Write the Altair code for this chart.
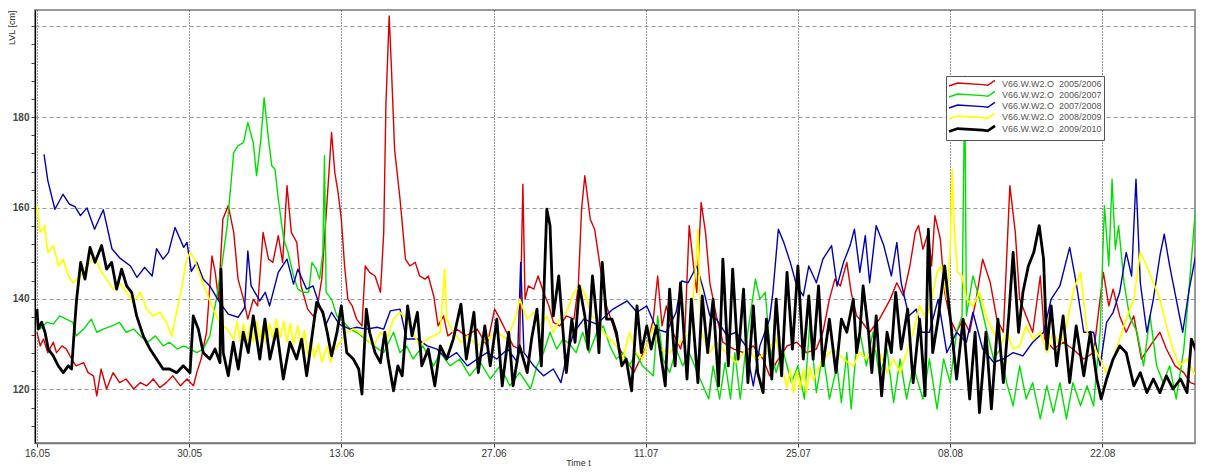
import altair as alt
import pandas as pd

SERIES = [
    "V66.W.W2.O\u00a0\u00a02005/2006",
    "V66.W.W2.O\u00a0\u00a02006/2007",
    "V66.W.W2.O\u00a0\u00a02007/2008",
    "V66.W.W2.O\u00a0\u00a02008/2009",
    "V66.W.W2.O\u00a0\u00a02009/2010",
]
COLORS = ["#d80000", "#00e000", "#0000b0", "#ffff00", "#000000"]
WIDTHS = [1.4, 1.4, 1.4, 1.7, 2.8]

TICK_DAYS = [0, 14, 28, 42, 56, 70, 84, 98]
TICK_LABELS = ["16.05", "30.05", "13.06", "27.06", "11.07", "25.07", "08.08", "22.08"]
Y_TICKS = [112, 116, 120, 124, 128, 132, 136, 140, 144, 148, 152, 156, 160, 164,
           168, 172, 176, 180, 184, 188, 192, 196, 200]

# days after 16.05 00:00
red_day = [0, 0.3, 0.6, 1.0, 1.5, 1.8, 2.3, 2.7, 3.2, 3.6, 4.3, 4.7, 5.2, 5.5, 5.9, 6.4, 7.0, 7.6,
           8.2, 8.9, 9.5, 10.1, 10.7, 11.3, 11.9, 12.5, 13.2, 13.8, 14.4, 14.7, 15.1, 15.6, 16.1,
           16.4, 16.7, 17.1, 17.6, 18.1, 18.5, 19.0, 19.4, 19.9, 20.3, 20.8, 21.3, 21.7, 22.2,
           22.6, 23.0, 23.4, 23.9, 24.3, 24.9, 25.4, 25.7, 26.2, 26.7, 27.1, 27.4, 27.7, 28.0,
           28.3, 28.6, 29.0, 29.4, 29.9, 30.2, 30.6, 31.1, 31.6, 31.9, 32.1, 32.4, 32.6, 32.9,
           33.4, 33.9, 34.3, 34.8, 35.2, 35.7, 36.0, 36.5, 36.9, 37.4, 37.8, 38.6, 39.5, 40.5,
           41.4, 42.1, 42.6, 43.2, 43.8, 44.4, 44.7, 44.9, 45.2, 45.7, 46.1, 46.6, 47.1, 47.5,
           48.1, 48.7, 49.4, 49.8, 50.1, 50.4, 50.9, 51.3, 51.8, 52.4, 53.0, 53.6, 54.2, 54.9,
           55.5, 56.1, 56.7, 57.1, 57.5, 57.9, 58.5, 59.2, 59.6, 60.0, 60.4, 60.7, 61.1, 61.5,
           61.9, 62.5, 63.1, 64.1, 65.0, 65.9, 66.8, 67.4, 68.0, 69.0, 69.9, 70.8, 71.7, 72.3,
           72.9, 73.4, 73.9, 74.5, 74.9, 75.4, 75.7, 76.6, 77.5, 78.5, 79.1, 79.7, 80.3, 80.8,
           81.1, 81.5, 82.0, 82.3, 82.6, 83.1, 83.5, 84.0, 84.6, 85.2, 85.8, 86.4, 87.0, 87.7,
           88.3, 88.9, 89.5, 90.0, 90.4, 91.0, 91.6, 92.3, 92.7, 93.5, 94.4, 95.3, 96.3, 97.2,
           98.1, 98.6, 99.0, 99.6, 100.2, 100.9, 101.6, 102.4, 103.3, 103.9, 104.7, 105.5,
           106.1, 107.0]
red_lvl = [132.6, 129.6, 131.1, 128.1, 130.4, 128.1, 129.6, 128.9, 126.7, 125.2, 125.9, 123.7,
           123.0, 118.6, 124.5, 120.1, 123.7, 121.5, 122.3, 120.1, 121.5, 120.8, 122.3, 120.4,
           121.5, 123.0, 120.8, 122.3, 120.8, 123.7, 126.7, 132.6, 149.4, 145.8, 139.9, 157.5,
           160.5, 154.6, 144.3, 139.9, 135.5, 139.9, 138.4, 154.6, 148.7, 148.0, 153.9, 148.0,
           164.9, 154.6, 152.4, 142.8, 137.7, 136.2, 137.0, 144.3, 161.9, 176.6, 167.8, 163.4,
           157.5, 147.2, 139.9, 138.4, 135.5, 134.0, 147.2, 145.8, 145.0, 141.4, 154.6, 182.5,
           202.3, 191.3, 172.9, 161.9, 148.7, 147.2, 148.0, 145.0, 144.3, 145.0, 140.6, 134.0,
           136.2, 131.8, 133.3, 131.8, 133.3, 129.6, 137.7, 135.5, 132.6, 129.6, 128.9, 165.2,
           139.9, 142.8, 142.1, 145.0, 141.4, 138.4, 134.8, 134.0, 136.2, 135.5, 142.8, 159.7,
           167.1, 157.5, 155.3, 147.2, 138.4, 134.0, 128.9, 126.7, 123.7, 126.7, 129.6, 135.5,
           145.0, 134.0, 138.4, 132.6, 128.9, 132.6, 156.1, 147.2, 141.4, 161.2, 154.6, 143.5,
           136.2, 130.4, 128.9, 128.1, 129.6, 126.7, 123.0, 125.9, 129.6, 130.4, 128.1, 128.9,
           132.6, 139.9, 144.3, 142.8, 148.0, 141.4, 136.2, 135.5, 132.6, 135.5, 139.9, 143.5,
           140.6, 147.2, 154.6, 156.1, 150.9, 154.6, 147.2, 158.3, 153.2, 141.4, 135.5, 132.6,
           135.5, 132.6, 139.9, 148.7, 143.5, 135.5, 132.6, 164.9, 154.6, 139.9, 136.2, 132.6,
           145.0, 131.1, 128.9, 130.4, 128.9, 126.7, 128.1, 145.8, 138.4, 142.1, 136.2, 132.6,
           136.2, 126.7, 129.6, 132.6, 128.9, 125.2, 123.7, 121.5, 120.8]

green_day = [0, 0.3, 0.9, 1.5, 2.1, 2.7, 3.3, 3.6, 4.3, 5.0, 5.5, 6.1, 6.9, 7.6, 8.2, 8.9, 9.5,
             10.2, 10.9, 11.6, 12.2, 12.9, 13.5, 14.1, 14.7, 15.3, 15.9, 16.5, 17.0, 17.5, 18.1,
             18.5, 19.0, 19.4, 19.9, 20.2, 20.6, 20.9, 21.3, 21.6, 21.9, 22.2, 22.7, 23.1, 23.6,
             24.0, 24.5, 25.0, 25.3, 25.7, 26.0, 26.3, 26.45, 26.6, 27.1, 27.6, 28.2, 28.8, 29.4,
             30.2, 31.0, 31.9, 32.8, 33.4, 34.0, 34.6, 35.5, 36.5, 37.1, 38.0, 38.9, 39.8, 40.8,
             41.7, 42.6, 43.5, 44.4, 45.4, 46.0, 46.6, 47.2, 47.8, 48.4, 49.0, 49.6, 50.2, 50.8,
             51.5, 52.1, 52.7, 53.3, 53.9, 54.5, 55.1, 55.7, 56.7, 57.1, 57.6, 58.2, 58.8, 59.4,
             60.0, 61.0, 61.8, 62.2, 62.8, 63.3, 63.8, 64.2, 64.7, 65.3, 66.1, 66.5, 67.0, 67.4,
             68.0, 68.6, 69.4, 70.0, 70.6, 71.1, 71.7, 72.3, 72.9, 73.6, 74.0, 74.5, 74.9, 75.4,
             75.7, 76.3, 76.9, 77.5, 78.2, 78.8, 79.4, 80.0, 80.6, 81.5, 82.1, 82.8, 83.4, 84.0,
             84.6, 85.1, 85.35, 85.5, 86.1, 86.7, 87.4, 88.0, 88.6, 89.2, 89.8, 90.4, 91.0, 91.6,
             92.3, 92.9, 93.5, 94.1, 94.7, 95.3, 96.0, 96.6, 97.2, 97.8, 98.2, 98.6, 98.9, 99.2,
             99.5, 100.0, 100.5, 101.2, 101.8, 102.4, 103.0, 103.6, 104.2, 104.8, 105.5, 105.9,
             106.4, 106.7, 107.0]
green_lvl = [135.5, 133.3, 134.8, 134.4, 136.2, 135.5, 134.8, 131.8, 133.3, 135.5, 132.6, 133.3,
             134.0, 134.8, 132.6, 133.3, 131.8, 130.4, 131.8, 129.6, 130.4, 128.9, 129.6, 128.9,
             128.1, 128.9, 131.8, 139.9, 147.2, 156.1, 172.2, 173.7, 174.4, 178.8, 174.4, 167.1,
             175.1, 184.3, 175.1, 169.3, 168.5, 161.9, 153.1, 150.2, 145.0, 142.1, 141.4, 141.4,
             148.0, 146.5, 144.3, 150.2, 171.5, 141.4, 139.9, 136.2, 134.8, 133.3, 132.6, 131.1,
             129.6, 128.1, 132.6, 128.1, 129.6, 126.7, 129.6, 125.2, 128.1, 125.2, 126.7, 123.0,
             125.9, 122.3, 125.2, 120.8, 123.7, 120.1, 125.2, 128.1, 132.6, 128.9, 131.1, 130.0,
             128.1, 132.6, 128.1, 132.6, 134.0, 129.6, 126.7, 128.1, 125.2, 128.1, 125.2, 123.0,
             136.2, 126.7, 123.7, 128.9, 125.2, 128.1, 122.3, 117.9, 125.2, 117.9, 125.9, 117.9,
             128.1, 117.9, 131.1, 144.3, 139.9, 141.4, 129.6, 123.7, 128.9, 121.5, 125.2, 117.9,
             134.8, 119.3, 128.1, 117.9, 125.2, 117.1, 128.1, 115.7, 129.6, 132.6, 125.2, 132.6,
             123.0, 128.9, 117.1, 126.7, 117.9, 125.2, 117.9, 126.7, 115.7, 126.7, 121.5, 132.6,
             136.2, 189.0, 136.2, 145.0, 139.9, 132.6, 126.7, 128.9, 121.5, 116.4, 125.2, 117.9,
             121.5, 113.5, 120.8, 114.9, 121.5, 113.5, 121.5, 116.4, 120.8, 116.4, 132.6, 160.5,
             147.2, 166.3, 150.9, 156.1, 143.5, 136.2, 132.6, 125.2, 136.2, 125.2, 121.5, 125.2,
             117.9, 128.9, 139.9, 154.6, 163.4, 158.3]

blue_day = [0.65, 1.0, 1.65, 2.4, 3.0, 3.5, 4.0, 4.6, 5.3, 6.1, 6.9, 7.6, 8.6, 9.2, 9.9, 10.6,
            11.0, 11.6, 12.1, 12.7, 13.5, 13.8, 14.2, 14.7, 15.3, 15.9, 16.8, 17.6, 18.5, 19.1,
            19.4, 19.7, 20.5, 21.0, 21.4, 22.2, 23.0, 23.6, 24.0, 24.8, 25.4, 26.0, 26.6, 27.1,
            27.8, 28.8, 29.4, 30.3, 31.3, 31.9, 32.5, 33.4, 34.0, 35.0, 35.9, 36.8, 37.7, 38.6,
            39.6, 40.5, 41.4, 42.3, 43.3, 44.2, 44.5, 44.8, 45.7, 46.6, 47.5, 48.2, 48.8, 49.4,
            50.3, 51.5, 53.0, 54.3, 55.2, 56.1, 57.0, 57.9, 58.8, 59.3, 59.9, 60.7, 61.3, 61.9,
            62.5, 63.5, 64.3, 65.2, 65.9, 66.5, 67.4, 67.7, 68.2, 68.7, 69.3, 69.9, 70.5, 71.0,
            71.7, 72.3, 73.1, 73.6, 74.2, 74.8, 75.2, 75.7, 76.2, 76.6, 77.2, 77.9, 78.6, 79.1,
            79.5, 80.2, 80.9, 81.4, 82.1, 82.9, 83.7, 84.6, 85.5, 86.1, 87.0, 88.0, 88.9, 89.8,
            90.7, 91.6, 92.6, 93.3, 94.1, 95.0, 95.6, 96.3, 97.2, 97.8, 98.4, 99.0, 99.6, 100.2,
            100.7, 101.1, 101.5, 102.1, 102.7, 103.3, 103.7, 104.2, 104.8, 105.4, 106.0, 106.7,
            107.0]
blue_lvl = [171.8, 166.0, 159.7, 163.0, 160.8, 160.3, 158.3, 160.0, 155.3, 159.6, 151.0, 149.0,
            147.2, 144.7, 146.9, 145.0, 151.0, 148.7, 150.2, 155.7, 151.3, 152.4, 146.0, 148.0,
            144.3, 142.8, 139.2, 136.6, 135.9, 138.0, 150.5, 142.8, 139.5, 141.4, 138.4, 145.8,
            148.7, 143.2, 146.5, 142.1, 142.8, 138.5, 134.4, 137.0, 134.4, 133.3, 133.7, 133.3,
            133.7, 133.3, 137.3, 137.7, 131.1, 131.1, 129.6, 128.9, 126.7, 128.1, 125.2, 126.7,
            128.1, 126.7, 128.9, 126.0, 148.0, 128.1, 125.2, 123.0, 124.5, 121.5, 128.1, 132.6,
            135.5, 134.4, 137.7, 139.5, 137.0, 138.4, 133.3, 132.6, 137.0, 143.9, 143.5, 147.2,
            142.1, 136.2, 135.5, 131.8, 132.6, 129.6, 120.8, 129.6, 135.5, 141.4, 155.3, 152.4,
            148.0, 142.8, 140.6, 147.2, 143.5, 148.7, 151.7, 142.8, 148.0, 151.7, 155.3, 145.8,
            153.9, 143.5, 156.1, 151.7, 145.0, 152.4, 143.5, 136.2, 137.7, 132.6, 132.6, 139.9,
            128.1, 132.6, 130.4, 137.0, 128.9, 126.0, 126.7, 128.1, 127.4, 130.4, 132.6, 139.9,
            142.8, 151.3, 143.5, 132.6, 132.6, 125.2, 134.8, 137.0, 141.4, 150.2, 145.0, 166.3,
            143.5, 132.6, 139.9, 149.4, 154.2, 147.2, 139.9, 132.6, 142.1, 150.9, 166.3]

yellow_day = [0, 0.3, 0.7, 1.0, 1.5, 2.0, 2.4, 2.9, 3.3, 4.0, 4.6, 5.3, 5.8, 6.4, 7.0, 7.6, 8.2,
              8.9, 9.5, 10.1, 10.7, 11.3, 11.9, 12.4, 12.9, 13.3, 13.7, 14.1, 14.5, 15.0, 15.6,
              16.2, 16.8, 17.5, 18.1, 18.4, 18.7, 19.0, 19.3, 19.6, 19.9, 20.2, 20.5, 20.8, 21.1,
              21.4, 21.7, 22.0, 22.4, 22.7, 23.0, 23.3, 23.6, 24.0, 24.3, 24.6, 24.9, 25.2, 25.5,
              25.9, 26.2, 26.7, 27.0, 27.3, 27.9, 28.5, 29.1, 29.7, 30.3, 31.0, 31.6, 32.2, 32.8,
              33.4, 34.0, 34.6, 35.2, 35.9, 36.5, 37.1, 37.5, 37.7, 38.3, 39.0, 39.6, 40.5, 41.4,
              42.3, 43.2, 44.1, 44.4, 45.1, 45.7, 46.3, 46.9, 47.5, 48.1, 48.7, 49.4, 50.0, 50.6,
              51.0, 51.5, 52.1, 52.7, 53.3, 53.9, 54.5, 55.1, 55.7, 56.7, 57.3, 58.2, 59.1, 60.1,
              60.6, 60.8, 61.1, 61.9, 62.5, 63.4, 64.3, 65.3, 66.2, 67.1, 68.0, 68.6, 69.0, 69.3,
              69.6, 69.9, 70.2, 70.5, 70.8, 71.1, 71.4, 72.3, 73.3, 74.2, 75.1, 75.7, 76.3, 76.9,
              77.5, 78.2, 78.8, 79.4, 80.0, 80.6, 81.2, 81.8, 82.3, 82.8, 83.2, 83.7, 84.0, 84.2,
              84.4, 84.7, 85.1, 85.5, 86.1, 86.7, 87.4, 88.0, 88.6, 89.2, 89.8, 90.4, 91.0, 91.6,
              92.3, 92.9, 93.5, 94.1, 94.7, 95.3, 96.0, 96.6, 97.2, 97.8, 98.4, 99.0, 99.6, 100.2,
              100.9, 101.5, 102.1, 102.7, 103.3, 103.9, 104.5, 105.1, 105.8, 106.4, 107.0]
yellow_lvl = [160.5, 154.6, 156.1, 150.2, 151.7, 147.2, 148.7, 145.0, 143.5, 145.0, 147.2, 149.4,
              146.5, 144.3, 142.1, 143.5, 141.4, 139.2, 141.4, 137.7, 136.2, 137.0, 134.8, 131.8,
              137.7, 142.1, 148.0, 150.2, 148.7, 145.0, 141.4, 137.7, 134.8, 133.3, 131.0, 135.0,
              130.5, 134.5, 130.0, 134.0, 130.5, 135.0, 131.0, 134.0, 130.0, 134.5, 131.0, 135.5,
              131.5, 135.0, 130.5, 134.5, 130.0, 134.0, 129.0, 133.0, 127.5, 131.0, 127.0, 130.0,
              126.0, 129.5, 126.0, 128.5, 130.4, 132.6, 133.3, 132.6, 131.1, 129.6, 132.6, 131.1,
              135.5, 137.0, 135.5, 132.6, 129.6, 131.1, 131.8, 132.6, 146.5, 135.5, 132.6, 130.4,
              131.8, 129.6, 131.1, 132.6, 131.1, 136.2, 139.9, 135.5, 137.0, 134.0, 136.2, 132.6,
              135.5, 137.0, 141.4, 142.8, 139.9, 136.2, 135.5, 132.6, 131.1, 129.6, 126.7, 132.6,
              128.1, 126.7, 134.0, 128.9, 128.1, 130.4, 132.6, 147.2, 155.3, 132.6, 128.1, 130.4,
              128.1, 125.9, 128.9, 126.7, 128.1, 131.1, 124.0, 120.5, 124.5, 119.3, 124.0, 120.0,
              124.5, 119.3, 125.0, 122.0, 126.7, 128.9, 126.7, 125.2, 128.1, 126.7, 129.6, 128.1,
              123.7, 126.7, 123.7, 128.1, 132.6, 138.4, 135.5, 139.9, 145.8, 147.2, 139.9, 150.2,
              168.5, 154.6, 145.8, 145.0, 139.9, 138.4, 141.4, 135.5, 132.6, 129.6, 132.6, 128.9,
              129.6, 134.0, 131.1, 132.6, 128.1, 132.6, 129.6, 134.0, 141.4, 145.8, 132.6, 129.6,
              126.7, 123.7, 126.7, 131.1, 135.5, 139.9, 150.2, 147.2, 143.5, 139.9, 134.0, 128.9,
              125.2, 126.7, 123.7, 122.3]

black_day = [0, 0.12, 0.43, 0.74, 1.04, 1.5, 1.96, 2.42, 2.88, 3.19, 3.44, 3.65, 4.02, 4.42, 4.88,
             5.34, 5.95, 6.41, 6.87, 7.33, 7.79, 8.25, 8.71, 9.17, 9.78, 10.4, 11.0, 11.6, 12.2,
             12.85, 13.46, 14.08, 14.38, 14.84, 15.3, 15.9, 16.38, 16.84, 16.93, 17.14, 17.6,
             18.06, 18.52, 18.98, 19.44, 19.9, 20.5, 20.97, 21.43, 22.05, 22.66, 23.27, 23.89,
             24.35, 24.81, 25.27, 25.73, 26.3, 26.7, 27.1, 27.6, 28.0, 28.5, 29.1, 29.6, 29.9,
             30.3, 30.6, 31.1, 31.6, 32.0, 32.3, 32.8, 33.2, 33.6, 34.1, 34.5, 35.0, 35.4, 36.0,
             36.6, 37.1, 37.7, 38.3, 39.0, 39.5, 40.2, 40.6, 41.2, 41.7, 42.3, 42.8, 43.4, 43.8,
             44.4, 45.1, 45.5, 46.0, 46.4, 46.9, 47.2, 47.5, 48.0, 48.4, 48.7, 49.2, 49.5, 49.9,
             50.4, 50.7, 51.1, 51.5, 51.7, 52.0, 52.4, 52.9, 53.3, 53.8, 54.2, 54.7, 55.2, 55.6,
             56.1, 56.5, 57.0, 57.8, 58.2, 58.7, 59.2, 59.8, 60.2, 60.8, 61.2, 61.7, 62.2, 62.7,
             63.1, 63.6, 64.0, 64.5, 65.0, 65.4, 65.9, 66.3, 66.8, 67.1, 67.6, 68.0, 68.5, 69.0,
             69.5, 70.0, 70.5, 71.0, 71.4, 71.9, 72.3, 72.9, 73.5, 74.0, 74.5, 75.1, 75.4, 75.7,
             76.0, 76.5, 76.8, 77.2, 77.7, 78.2, 78.6, 79.0, 79.5, 80.1, 80.6, 81.2, 81.7, 82.0,
             82.4, 82.9, 83.5, 84.0, 84.6, 85.2, 85.8, 86.3, 86.7, 87.3, 87.8, 88.4, 88.9, 89.4,
             89.8, 90.3, 90.7, 91.2, 91.7, 92.2, 92.6, 92.9, 93.3, 93.8, 94.4, 95.0, 95.6, 96.3,
             96.9, 97.5, 97.9, 98.4, 99.0, 99.6, 100.2, 100.9, 101.5, 102.1, 102.7, 103.3, 103.9,
             104.5, 105.2, 105.8, 106.2, 106.7, 107.1]
black_lvl = [137.7, 133.3, 134.8, 132.6, 128.9, 127.4, 125.2, 123.7, 125.2, 124.5, 133.3, 139.9,
             148.0, 144.3, 151.3, 148.0, 151.7, 146.5, 148.0, 142.1, 146.5, 142.8, 141.4, 136.2,
             131.8, 128.9, 126.7, 124.5, 124.5, 123.7, 125.2, 123.7, 136.2, 133.3, 128.1, 126.7,
             128.9, 125.9, 146.5, 128.1, 123.0, 130.4, 124.5, 132.6, 128.1, 136.2, 126.7, 135.5,
             126.7, 133.3, 122.3, 130.4, 126.7, 131.1, 123.0, 131.1, 139.2, 137.0, 132.6, 127.4,
             132.6, 138.4, 128.1, 126.7, 124.5, 119.0, 137.7, 132.6, 128.1, 125.9, 132.6, 126.7,
             119.7, 125.2, 123.0, 138.4, 131.8, 137.0, 125.2, 128.9, 120.8, 129.6, 126.7, 131.1,
             138.8, 126.7, 137.0, 123.7, 134.0, 125.2, 135.5, 120.8, 132.6, 120.8, 129.6, 123.7,
             131.1, 137.7, 125.2, 159.7, 156.1, 136.2, 145.0, 132.6, 123.7, 135.5, 130.4, 142.8,
             136.2, 128.9, 145.0, 135.5, 128.1, 148.0, 135.5, 135.5, 132.6, 125.2, 126.7, 119.7,
             138.4, 128.1, 134.0, 128.9, 134.0, 120.8, 142.1, 125.2, 143.5, 122.3, 139.9, 121.5,
             140.6, 128.1, 139.9, 120.8, 148.7, 125.2, 146.5, 126.7, 142.1, 121.5, 138.4, 123.7,
             119.3, 135.5, 122.3, 139.9, 123.0, 145.8, 128.9, 147.2, 126.7, 140.6, 126.7, 142.8,
             125.2, 135.5, 123.7, 135.5, 132.6, 139.9, 128.1, 132.6, 142.8, 132.6, 123.7, 136.2,
             118.6, 132.6, 128.1, 141.4, 128.9, 137.7, 121.5, 135.5, 118.6, 155.3, 128.1, 135.5,
             147.2, 136.2, 122.3, 135.5, 117.9, 132.6, 114.9, 132.6, 115.7, 135.5, 121.5, 136.2,
             150.2, 132.6, 141.4, 147.2, 150.2, 156.1, 148.7, 128.9, 138.4, 125.2, 136.2, 121.5,
             134.0, 123.0, 132.6, 122.3, 117.9, 122.3, 126.7, 129.6, 128.1, 120.8, 123.7, 119.3,
             122.3, 119.3, 123.0, 120.1, 122.3, 119.3, 131.1, 128.1, 129.6]

SERIES_DATA = [
    (red_day, red_lvl),
    (green_day, green_lvl),
    (blue_day, blue_lvl),
    (yellow_day, yellow_lvl),
    (black_day, black_lvl),
]

FONT = "Liberation Sans"

x_label_expr = " : ".join(
    f"datum.value == {d} ? '{lab}'" for d, lab in zip(TICK_DAYS, TICK_LABELS)
) + " : ''"

x_scale = alt.Scale(domain=[-0.18, 106.53], nice=False, zero=False)
y_scale = alt.Scale(domain=[108.2, 203.6], nice=False, zero=False)

x_axis = alt.Axis(
    values=TICK_DAYS,
    labelExpr=x_label_expr,
    grid=True,
    gridDash=[1, 2],
    gridColor="#333333",
    gridWidth=1,
    domainColor="#777777",
    domainWidth=1.5,
    tickColor="#333333",
    tickSize=4,
    labelPadding=1,
    labelFont=FONT,
    labelFontSize=10,
    labelColor="#333333",
    title="Time t",
    titleFont=FONT,
    titleFontSize=9,
    titleFontWeight="normal",
    titleColor="#333333",
    titleX=543,
    titleY=15,
    titleAlign="center",
    titleBaseline="top",
)

y_axis = alt.Axis(
    values=Y_TICKS,
    labelExpr="(datum.value % 20 === 0 && datum.value < 200) ? datum.label : ''",
    grid=True,
    gridDash=[4, 3],
    gridColor="#999999",
    gridWidth=1,
    gridOpacity={"condition": {"test": "datum.value % 20 === 0", "value": 1}, "value": 0},
    domainColor="#000000",
    domainWidth=1.2,
    tickColor="#444444",
    tickSize=4,
    labelPadding=2,
    labelFont=FONT,
    labelFontSize=10,
    labelFontWeight="bold",
    labelColor="#444444",
    title="LVL [cm]",
    titleFont=FONT,
    titleFontSize=9,
    titleFontWeight="normal",
    titleColor="#333333",
    titleAngle=270,
    titleX=-24,
    titleY=0,
    titleAlign="right",
    titleBaseline="middle",
)

# symbol path drawn wider than its nominal box so the rows stay compact
legend = alt.Legend(
    title=None,
    orient="none",
    legendX=911,
    legendY=66,
    fillColor="white",
    strokeColor="#555555",
    padding=2,
    rowPadding=-4.5,
    symbolType="M-5.1,0.55L-3.2,-0.1L2.4,0.25L3.5,0.4L5.1,-0.7",
    symbolSize=81,
    symbolOffset=18,
    symbolFillColor="transparent",
    labelFont=FONT,
    labelFontSize=9,
    labelColor="#555555",
    labelOffset=24,
)

color_scale = alt.Scale(domain=SERIES, range=COLORS)
width_scale = alt.Scale(type="ordinal", domain=SERIES, range=WIDTHS)

layers = []
for name, (days, vals) in zip(SERIES, SERIES_DATA):
    df = pd.DataFrame({"day": days, "lvl": vals, "series": name})
    layers.append(
        alt.Chart(df)
        .mark_line(clip=True, strokeJoin="round")
        .encode(
            x=alt.X("day:Q", scale=x_scale, axis=x_axis),
            y=alt.Y("lvl:Q", scale=y_scale, axis=y_axis),
            color=alt.Color("series:N", scale=color_scale, legend=legend),
            strokeWidth=alt.StrokeWidth("series:N", scale=width_scale, legend=legend),
        )
    )

chart = (
    alt.layer(*layers)
    .properties(
        width=1160,
        height=433,
        autosize=alt.AutoSizeParams(type="none"),
        padding={"left": 27, "top": 2, "right": 2, "bottom": 23},
        background="white",
    )
    .configure_view(stroke="#999999", strokeWidth=2)
)

chart.save("out.html", embed_options={"renderer": "svg", "actions": False})
